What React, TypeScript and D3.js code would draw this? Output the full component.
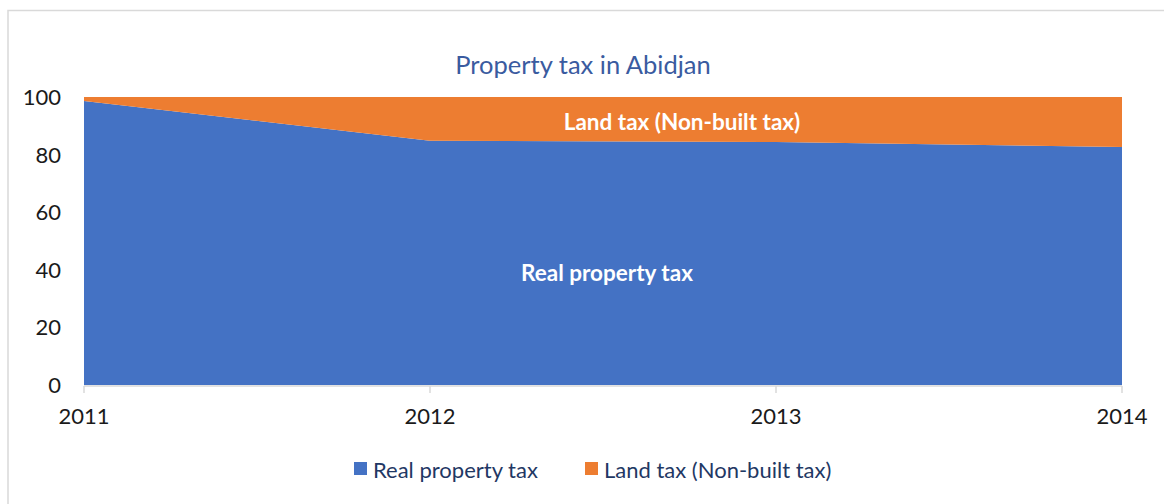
import React from "react";
import * as d3 from "d3";

const years = ["2011", "2012", "2013", "2014"];
const realPropertyTax = [98.6, 84.8, 84.4, 82.6];
const landTax = [1.4, 15.2, 15.6, 17.4];
const yTicks = [0, 20, 40, 60, 80, 100];
const seriesNames = ["Real property tax", "Land tax (Non-built tax)"];
const colors = ["#4472C4", "#ED7D31"];

const W = 1164, H = 504;
const M = { left: 84, right: 1122, top: 97, bottom: 385 };
const FONT = "Lato, 'Open Sans', 'Noto Sans', sans-serif";

export default function App() {
  const x = d3.scalePoint<string>().domain(years).range([M.left, M.right]);
  const y = d3.scaleLinear().domain([0, 100]).range([M.bottom, M.top]);
  const rows = years.map((yr, i) => ({ year: yr, real: realPropertyTax[i], land: landTax[i] }));
  const stack = d3.stack<any>().keys(["real", "land"])(rows);
  const area = d3
    .area<any>()
    .x((d) => x(d.data.year) as number)
    .y0((d) => y(d[0]))
    .y1((d) => y(d[1]));

  return (
    <svg width={W} height={H} style={{ position: "absolute", left: 0, top: 0, background: "#fff" }}>
      <rect x={8} y={10.5} width={W + 10} height={H + 10} fill="#fff" stroke="#D9D9D9" strokeWidth={1.5} />
      <text x={583} y={74} textAnchor="middle" fontFamily={FONT} fontSize={25.5} fill="#3A5BA0">
        Property tax in Abidjan
      </text>
      {stack.map((s, i) => (
        <path key={i} d={area(s) as string} fill={colors[i]} />
      ))}
      <line x1={M.left} x2={M.right} y1={M.bottom + 1} y2={M.bottom + 1} stroke="#D9D9D9" strokeWidth={1.5} />
      {years.map((yr) => (
        <g key={yr}>
          <line x1={x(yr)} x2={x(yr)} y1={M.bottom + 1} y2={M.bottom + 8} stroke="#D9D9D9" strokeWidth={1.5} />
          <text x={x(yr)} y={M.bottom + 39} textAnchor="middle" fontFamily={FONT} fontSize={22} fill="#1a1a1a">
            {yr}
          </text>
        </g>
      ))}
      {yTicks.map((t) => (
        <text key={t} x={61} y={y(t) + 8} textAnchor="end" fontFamily={FONT} fontSize={22} fill="#1a1a1a">
          {t}
        </text>
      ))}
      <text x={682} y={130} textAnchor="middle" fontFamily={FONT} fontWeight={700} fontSize={22.5} fill="#fff">
        {seriesNames[1]}
      </text>
      <text x={607} y={281} textAnchor="middle" fontFamily={FONT} fontWeight={700} fontSize={22.5} fill="#fff">
        {seriesNames[0]}
      </text>
      {seriesNames.map((n, i) => {
        const lx = i === 0 ? 354 : 585;
        return (
          <g key={n}>
            <rect x={lx} y={462} width={13} height={13} fill={colors[i]} />
            <text x={lx + 19} y={478} fontFamily={FONT} fontSize={22} fill="#1F3864">
              {n}
            </text>
          </g>
        );
      })}
    </svg>
  );
}
